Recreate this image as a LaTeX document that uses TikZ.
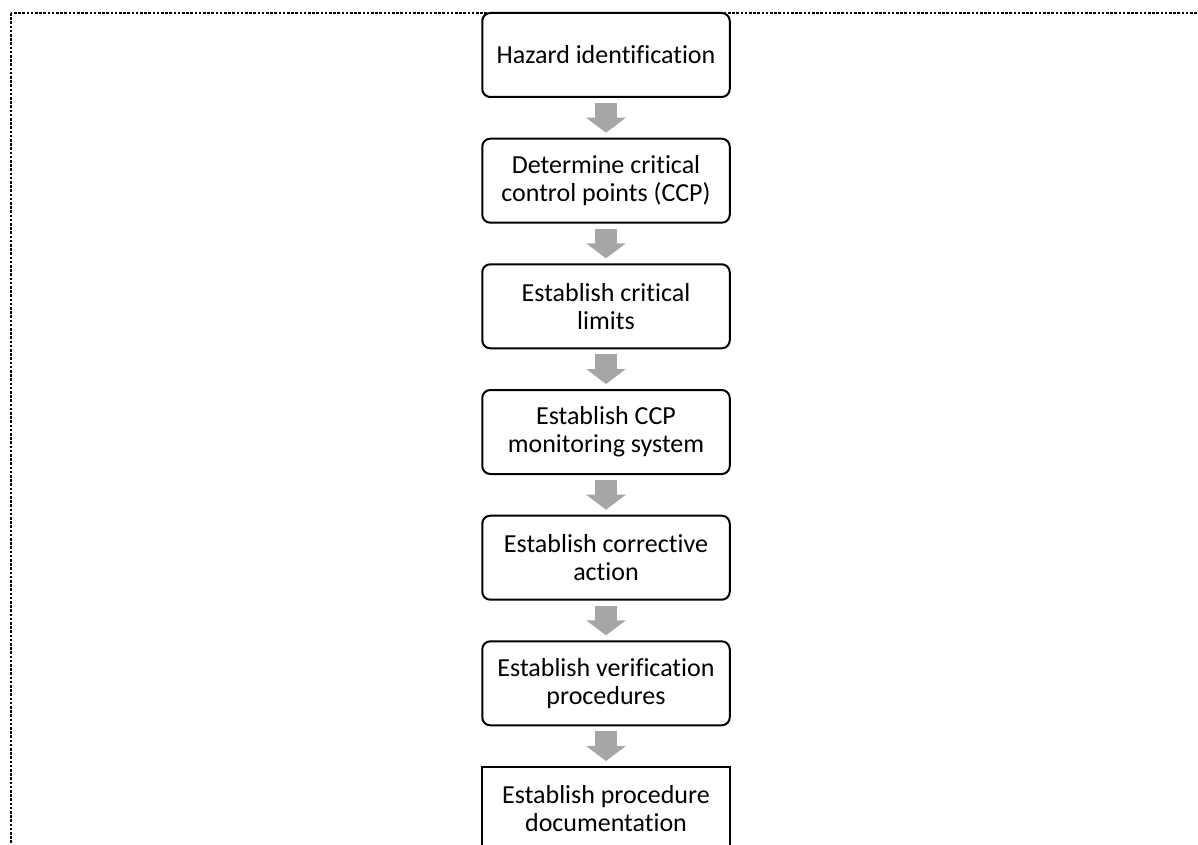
\documentclass[tikz,border=0pt]{standalone}
\usepackage{fontspec}
\setmainfont{Carlito}[Ligatures=NoCommon,RawFeature={-liga;-clig}]
\usetikzlibrary{arrows.meta}
\definecolor{flowgray}{HTML}{A6A6A6}
\begin{document}
\begin{tikzpicture}[x=1pt,y=-1pt,
  stepbox/.style={draw=black, line width=2pt, fill=white, rounded corners=8pt,
    minimum width=247.5pt, minimum height=84pt, inner sep=0pt, align=center,
    font=\fontsize{26}{28}\selectfont},
  lastbox/.style={stepbox, sharp corners},
  flowarrow/.style={draw=flowgray, line width=22pt,
    -{Triangle[width=39pt,length=15pt]}},
  frame/.style={draw=black, line width=1.3pt, dash pattern=on 2.6pt off 1.6pt}]
\useasboundingbox (0,0) rectangle (1198,845);
\clip (0,0) rectangle (1198,845);
% dotted frame around the whole chart
\draw[frame] (11,13) rectangle (1230,880);
% process steps
\node[stepbox] (s1) at (606,55) {Hazard identification};
\node[stepbox] (s2) at (606,180.7) {Determine critical\\control points (CCP)};
\node[stepbox] (s3) at (606,306.3) {Establish critical\\limits};
\node[stepbox] (s4) at (606,432) {Establish CCP\\monitoring system};
\node[stepbox] (s5) at (606,557.7) {Establish corrective\\action};
\node[stepbox] (s6) at (606,683.3) {Establish verification\\procedures};
\node[lastbox] (s7) at (606,809) {Establish procedure\\documentation};
% block arrows between consecutive steps
\foreach \a/\b in {s1/s2,s2/s3,s3/s4,s4/s5,s5/s6,s6/s7}
  \draw[flowarrow] ([yshift=-5pt]\a.south) -- ([yshift=5pt]\b.north);
\end{tikzpicture}
\end{document}
